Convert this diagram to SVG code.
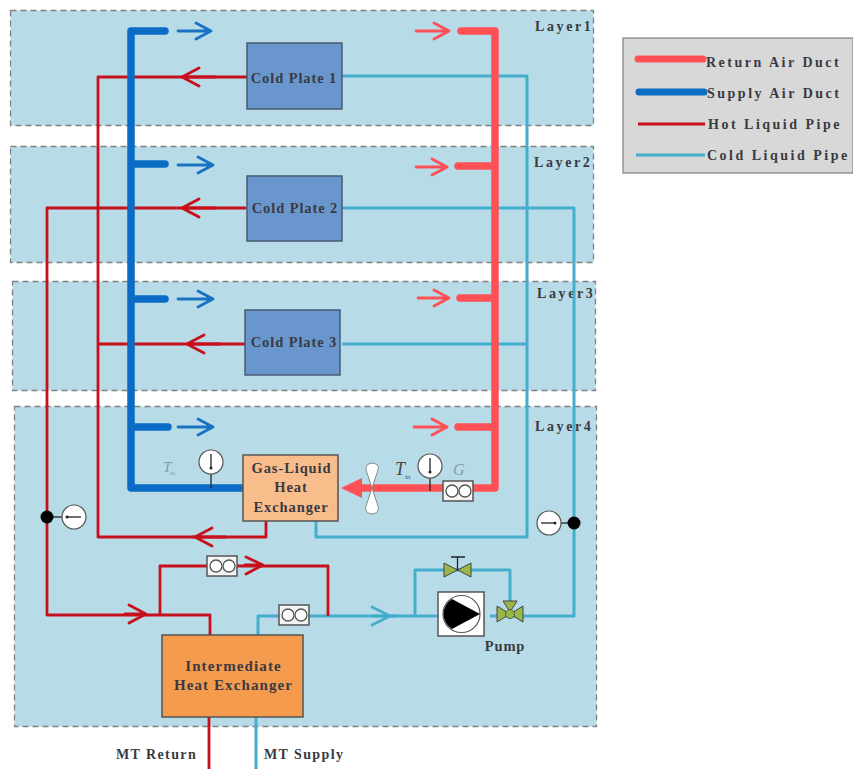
<svg xmlns="http://www.w3.org/2000/svg" width="853" height="769" viewBox="0 0 853 769">
<defs>
<style>
text{font-family:"Liberation Serif","Times New Roman",serif;font-weight:bold;fill:#3a3a42}
.layer{fill:#b7dce8;stroke:#808080;stroke-width:1.3;stroke-dasharray:6 4}
.lbl{font-size:14px;letter-spacing:2.6px}
.leg{font-size:14px;letter-spacing:2.5px}
.node{font-size:14.5px;letter-spacing:.9px;text-anchor:middle}
.big{font-size:15px;letter-spacing:1.1px;text-anchor:middle}
.plate{fill:#6997cd;stroke:#4a5a70;stroke-width:1.5}
.hot{fill:none;stroke:#c8101c;stroke-width:2.8;stroke-linejoin:round}
.cold{fill:none;stroke:#45aecb;stroke-width:3;stroke-linejoin:round}
.sup{fill:none;stroke:#0a6cc4;stroke-width:7.500;stroke-linecap:round;stroke-linejoin:round}
.ret{fill:none;stroke:#ff5055;stroke-width:7.500;stroke-linecap:round;stroke-linejoin:round}
.ah{fill:none;stroke-width:2.8;stroke-linecap:round;stroke-linejoin:round}
.dial{fill:#fff;stroke:#555;stroke-width:1.2}
.tick{fill:none;stroke:#222;stroke-width:1.3}
.fm{fill:#f4f4f4;stroke:#555;stroke-width:1.5}
.fmc{fill:#fff;stroke:#555;stroke-width:1.3}
.valve{fill:#9ab84a;stroke:#444;stroke-width:1}
.sym{font-style:italic;font-weight:normal;fill:#8a9aa4}
</style>
</defs>
<g id="layer1"><rect class="layer" x="10.500" y="10.500" width="583" height="115"/><text class="lbl" x="535" y="31">Layer1</text></g>
<g id="layer2"><rect class="layer" x="10.500" y="146.500" width="583" height="116"/><text class="lbl" x="534" y="167">Layer2</text></g>
<g id="layer3"><rect class="layer" x="12.500" y="281.500" width="583" height="109"/><text class="lbl" x="537" y="298">Layer3</text></g>
<g id="layer4"><rect class="layer" x="14.500" y="406.500" width="582" height="320"/><text class="lbl" x="535" y="431">Layer4</text></g>

<g id="connectors">
<path class="cold" d="M342 76H527V537H316V521M342 344H527"/>
<path class="cold" d="M342 208H574V616H490"/>
<path class="cold" d="M256 769V717M258 636V616H438M415 616V570H510V606"/>
<path class="hot" d="M248 77H98V537H266V521M246 344H98"/>
<path class="hot" d="M246 208H47V615H210V636M160 615V566H328V616M209 717V769"/>
<path class="sup" d="M165 31H131V488H244M131 164H165M131 299H165M131 427H168"/>
<path class="ret" d="M461 31H495V488H362M458 166H495M460 298H495M458 427H495"/>
<path fill="#ff5055" d="M341 488L362 478V498Z"/>
<g class="ah" stroke="#1a72c4"><path d="M178 31H211M196 23L211 31L196 39M178 165H213M198 157L213 165L198 173M178 299H213M198 291L213 299L198 307M178 427H213M198 419L213 427L198 435"/></g>
<g class="ah" stroke="#ff5055"><path d="M416 31H449M434 23L449 31L434 39M416 167H447M432 159L447 167L432 175M418 298H449M434 290L449 298L434 306M414 427H447M432 419L447 427L432 435"/></g>
<g class="ah" stroke="#c8101c"><path d="M215 77H182M199 68L182 77L199 86M215 208H182M199 199L182 208L199 217M220 344H187M204 335L187 344L204 353M225 537H193M212 528L195 537L212 546M125 614H146M129 605L146 614L129 623M245 565H262M246 557L263 565L246 574"/></g>
<path class="ah" stroke="#45aecb" d="M372 616H397M372 607L390 616L372 625"/>
</g>

<g id="cold-plate-1"><rect class="plate" x="247" y="43" width="95" height="66"/><text class="node" x="294" y="83">Cold Plate 1</text></g>
<g id="cold-plate-2"><rect class="plate" x="247" y="176" width="95" height="65"/><text class="node" x="295" y="213">Cold Plate 2</text></g>
<g id="cold-plate-3"><rect class="plate" x="245" y="310" width="95" height="65"/><text class="node" x="294" y="347">Cold Plate 3</text></g>

<g id="gas-liquid-hx"><rect x="243" y="455" width="95" height="66" fill="#f8bd8a" stroke="#555" stroke-width="1.5"/><text class="node" x="291.500" y="473">Gas-Liquid</text><text class="node" x="291" y="492">Heat</text><text class="node" x="291" y="512">Exchanger</text></g>
<g id="intermediate-hx"><rect x="162" y="635" width="141" height="82" fill="#f59b4e" stroke="#555" stroke-width="1.5"/><text class="big" x="233.500" y="671">Intermediate</text><text class="big" x="233.500" y="690">Heat Exchanger</text></g>

<g id="fan"><path fill="#fff" stroke="#888" d="M372 488L366 470Q365 464 372 463Q380 464 378 470ZM372 488L378 506Q380 513 372 514Q364 513 366 506Z"/></g>

<g id="sensor-tsu"><line class="tick" x1="211" y1="470" x2="211" y2="488"/><circle class="dial" cx="211" cy="462" r="12"/><path class="tick" d="M211 454V468"/><circle cx="211" cy="468" r="1.500" fill="#222"/><text class="sym" x="163" y="472" font-size="15">T</text><text class="sym" x="170" y="475" font-size="6">su</text></g>
<g id="sensor-tin"><line class="tick" x1="430" y1="475" x2="430" y2="491"/><circle class="dial" cx="430" cy="466" r="12"/><path class="tick" d="M430 458V472"/><circle cx="430" cy="472" r="1.500" fill="#222"/><text x="395" y="475" font-size="18" style="font-style:italic;font-weight:normal;fill:#444">T</text><text x="405" y="479" font-size="7" style="font-style:italic;font-weight:normal;fill:#444">in</text></g>
<g id="label-g"><text class="sym" x="453" y="475" font-size="16">G</text></g>
<g id="flow-air"><rect class="fm" x="443" y="481" width="30" height="20"/><circle class="fmc" cx="452" cy="491" r="6"/><circle class="fmc" cx="465" cy="491" r="6"/></g>
<g id="flow-hot"><rect class="fm" x="207" y="556" width="30" height="20"/><circle class="fmc" cx="216" cy="566" r="6"/><circle class="fmc" cx="229" cy="566" r="6"/></g>
<g id="flow-cold"><rect class="fm" x="279" y="605" width="30" height="20"/><circle class="fmc" cx="288" cy="615" r="6"/><circle class="fmc" cx="301" cy="615" r="6"/></g>

<g id="sensor-hot"><line class="tick" x1="47" y1="517" x2="70" y2="517"/><circle cx="47" cy="517" r="6.500" fill="#000"/><circle class="dial" cx="74" cy="517" r="12"/><path class="tick" d="M67 517H81"/><circle cx="67" cy="517" r="1.500" fill="#222"/></g>
<g id="sensor-cold"><line class="tick" x1="555" y1="523" x2="574" y2="523"/><circle cx="574" cy="523" r="6.500" fill="#000"/><circle class="dial" cx="549" cy="523" r="12"/><path class="tick" d="M541 523H555"/><circle cx="555" cy="523" r="1.500" fill="#222"/></g>

<g id="pump"><rect x="438" y="592" width="46" height="44" fill="#fff" stroke="#555" stroke-width="1.500"/><circle cx="461.500" cy="614" r="18.500" fill="#fff" stroke="#555" stroke-width="1.200"/><path d="M452 599A17.500 17.500 0 0 0 452 629L480 614Z" fill="#000"/><text class="node" x="505" y="651">Pump</text></g>
<g id="valve-bypass"><path class="valve" d="M444 563L457.500 570L444 577ZM471 563L457.500 570L471 577Z"/><path class="tick" d="M457.500 570V557M451 557H465"/></g>
<g id="valve-three-way"><path class="valve" d="M497 606L510 614L497 622ZM523 606L510 614L523 622ZM503 601H517L510 612Z"/><circle cx="510" cy="614" r="4.500" fill="#9ab84a" stroke="#444" stroke-width=".8"/></g>

<g id="labels"><text x="116" y="759" style="font-size:14px;letter-spacing:1.400px">MT Return</text><text x="264" y="759" style="font-size:14px;letter-spacing:1.400px">MT Supply</text></g>

<g id="legend"><rect x="623" y="38" width="230" height="135" fill="#d8d8d8" stroke="#888" stroke-width="1.300"/>
<line x1="638" y1="59" x2="703" y2="59" stroke="#ff5055" stroke-width="7" stroke-linecap="round"/>
<line x1="639" y1="92" x2="704" y2="92" stroke="#0a6cc4" stroke-width="7" stroke-linecap="round"/>
<line x1="638" y1="124" x2="705" y2="124" stroke="#c8101c" stroke-width="2.800"/>
<line x1="636" y1="155" x2="705" y2="155" stroke="#45aecb" stroke-width="3"/>
<text class="leg" x="706" y="67">Return Air Duct</text><text class="leg" x="707" y="98">Supply Air Duct</text><text class="leg" x="708" y="129">Hot Liquid Pipe</text><text class="leg" x="707" y="160">Cold Liquid Pipe</text></g>
</svg>
